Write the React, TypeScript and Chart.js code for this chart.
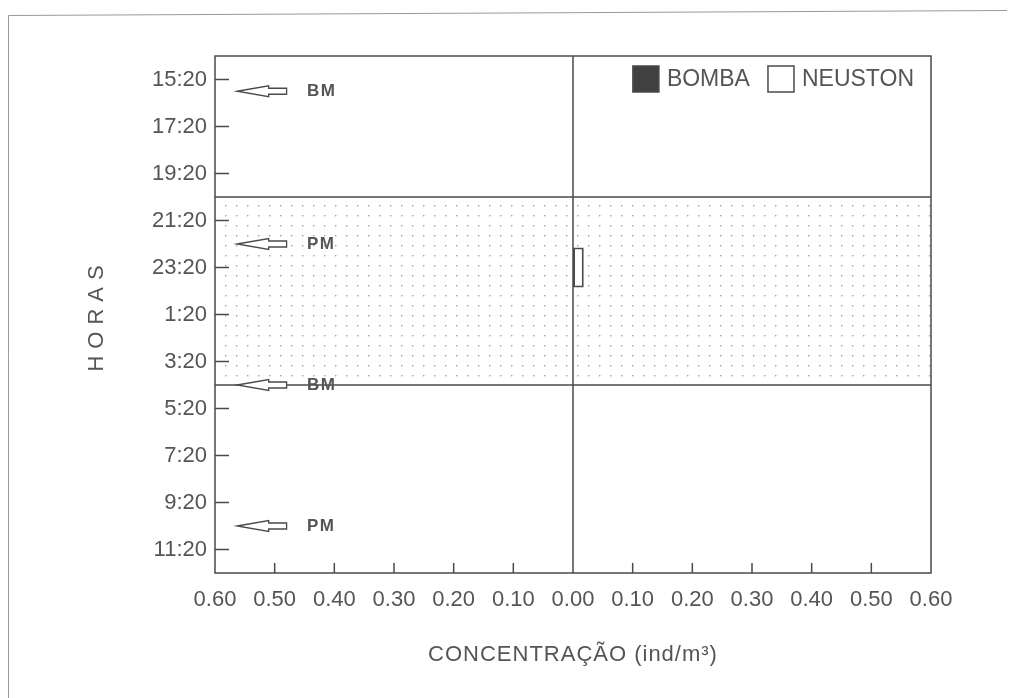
import { useEffect, useRef } from 'react';
import { Chart, registerables } from 'chart.js';

Chart.register(...registerables);

// ---- data ----
const hourLabels = ['15:20', '17:20', '19:20', '21:20', '23:20', '1:20', '3:20', '5:20', '7:20', '9:20', '11:20'];
const bombaValues = [0, 0, 0, 0, 0, 0, 0, 0, 0, 0, 0];
const neustonValues = [0, 0, 0, 0, 0.018, 0, 0, 0, 0, 0, 0];
const nightHours = ['21:20', '23:20', '1:20', '3:20'];
const tideLabels = ['BM', 'PM', 'BM', 'PM'];
const tideTimes = ['15:50', '22:20', '4:20', '10:20'];
const xTickValues = [-0.6, -0.5, -0.4, -0.3, -0.2, -0.1, 0, 0.1, 0.2, 0.3, 0.4, 0.5, 0.6];

// ---- style ----
const FONT = "'Liberation Sans', Arial, Helvetica, sans-serif";
const INK = '#4a4a4a';
const TEXT = '#555555';
const W = 1015;
const H = 698;

function toMin(t: string) {
  const [h, m] = t.split(':').map(Number);
  return h * 60 + m;
}

// fractional category index for a clock time
function timeToIndex(t: string) {
  const start = toMin(hourLabels[0]);
  const step = toMin(hourLabels[1]) - start;
  let d = toMin(t) - start;
  if (d < 0) d += 1440;
  return d / step;
}

function makePattern(ctx: CanvasRenderingContext2D) {
  const c = document.createElement('canvas');
  c.width = 11;
  c.height = 10;
  const p = c.getContext('2d')!;
  p.fillStyle = '#ffffff';
  p.fillRect(0, 0, 11, 10);
  p.fillStyle = '#a0a0a0';
  p.fillRect(5, 5, 1.4, 1.4);
  return ctx.createPattern(c, 'repeat');
}

const decorPlugin = {
  id: 'decor',
  beforeDatasetsDraw(chart: any) {
    const { ctx, chartArea: a, scales } = chart;
    const y = scales.y;
    const i0 = hourLabels.indexOf(nightHours[0]);
    const i1 = hourLabels.indexOf(nightHours[nightHours.length - 1]);
    const top = y.getPixelForValue(i0 - 0.5);
    const bot = y.getPixelForValue(i1 + 0.5);
    ctx.save();
    ctx.fillStyle = makePattern(ctx) || '#eee';
    ctx.fillRect(a.left, top, a.right - a.left, bot - top);
    ctx.restore();
  },
  afterDatasetsDraw(chart: any) {
    const { ctx, chartArea: a, scales } = chart;
    const x = scales.x;
    const y = scales.y;
    ctx.save();
    ctx.strokeStyle = INK;
    ctx.lineWidth = 1.5;

    // band edges
    const i0 = hourLabels.indexOf(nightHours[0]);
    const i1 = hourLabels.indexOf(nightHours[nightHours.length - 1]);
    [y.getPixelForValue(i0 - 0.5), y.getPixelForValue(i1 + 0.5)].forEach((py: number) => {
      ctx.beginPath();
      ctx.moveTo(a.left, py);
      ctx.lineTo(a.right, py);
      ctx.stroke();
    });

    // centre line at 0
    const cx = x.getPixelForValue(0);
    ctx.beginPath();
    ctx.moveTo(cx, a.top);
    ctx.lineTo(cx, a.bottom);
    ctx.stroke();

    // frame
    ctx.strokeRect(a.left, a.top, a.right - a.left, a.bottom - a.top);

    // inward ticks
    hourLabels.forEach((_, i) => {
      const py = y.getPixelForValue(i);
      ctx.beginPath();
      ctx.moveTo(a.left, py);
      ctx.lineTo(a.left + 14, py);
      ctx.stroke();
    });
    xTickValues.forEach((v) => {
      if (Math.abs(v) < 1e-9 || Math.abs(Math.abs(v) - 0.6) < 1e-9) return;
      const px = x.getPixelForValue(v);
      ctx.beginPath();
      ctx.moveTo(px, a.bottom);
      ctx.lineTo(px, a.bottom - 10);
      ctx.stroke();
    });

    // tide arrows
    const tip = x.getPixelForValue(-0.563);
    const base = x.getPixelForValue(-0.51);
    const end = x.getPixelForValue(-0.48);
    const lx = x.getPixelForValue(-0.446);
    tideTimes.forEach((t, k) => {
      const py = y.getPixelForValue(timeToIndex(t));
      ctx.beginPath();
      ctx.moveTo(tip, py);
      ctx.lineTo(base, py - 5.5);
      ctx.lineTo(base, py - 3);
      ctx.lineTo(end, py - 3);
      ctx.lineTo(end, py + 3);
      ctx.lineTo(base, py + 3);
      ctx.lineTo(base, py + 5.5);
      ctx.closePath();
      ctx.fillStyle = '#ffffff';
      ctx.fill();
      ctx.lineWidth = 1.3;
      ctx.stroke();
      ctx.fillStyle = TEXT;
      ctx.font = `bold 17px ${FONT}`;
      (ctx as any).letterSpacing = '1.5px';
      ctx.textAlign = 'left';
      ctx.textBaseline = 'middle';
      ctx.fillText(tideLabels[k], lx, py + 0.5);
    });
    (ctx as any).letterSpacing = '0px';

    // legend (top-right inside plot)
    ctx.font = `23px ${FONT}`;
    ctx.textBaseline = 'middle';
    ctx.textAlign = 'left';
    const items = chart.data.datasets.map((ds: any) => ({ label: ds.label, fill: ds.legendFill }));
    const box = 26;
    const gapText = 8;
    const gapItem = 18;
    let total = 0;
    items.forEach((it: any, k: number) => {
      total += box + gapText + ctx.measureText(it.label).width + (k < items.length - 1 ? gapItem : 0);
    });
    let lxp = a.right - 17 - total;
    const ly = a.top + 10;
    items.forEach((it: any) => {
      ctx.fillStyle = it.fill;
      ctx.fillRect(lxp, ly, box, box);
      ctx.lineWidth = 1.5;
      ctx.strokeStyle = INK;
      ctx.strokeRect(lxp, ly, box, box);
      ctx.fillStyle = TEXT;
      ctx.fillText(it.label, lxp + box + gapText, ly + box / 2 + 1);
      lxp += box + gapText + ctx.measureText(it.label).width + gapItem;
    });

    // axis titles
    ctx.fillStyle = TEXT;
    ctx.font = `22px ${FONT}`;
    (ctx as any).letterSpacing = '1px';
    ctx.textAlign = 'center';
    ctx.textBaseline = 'middle';
    ctx.fillText('CONCENTRAÇÃO (ind/m³)', (a.left + a.right) / 2, 655);
    (ctx as any).letterSpacing = '7px';
    ctx.save();
    ctx.translate(97, (a.top + a.bottom) / 2 + 4);
    ctx.rotate(-Math.PI / 2);
    ctx.fillText('HORAS', 3.5, 0);
    ctx.restore();
    (ctx as any).letterSpacing = '0px';

    ctx.restore();
  },
  afterDraw(chart: any) {
    const { ctx } = chart;
    ctx.save();
    ctx.strokeStyle = '#9a9a9a';
    ctx.lineWidth = 1;
    ctx.beginPath();
    ctx.moveTo(8.5, H);
    ctx.lineTo(8.5, 15.5);
    ctx.lineTo(W - 8, 10.5);
    ctx.stroke();
    ctx.restore();
  },
};

export default function App() {
  const ref = useRef<HTMLCanvasElement | null>(null);

  useEffect(() => {
    if (!ref.current) return;
    const chart = new Chart(ref.current, {
      type: 'bar',
      data: {
        labels: hourLabels,
        datasets: [
          {
            label: 'BOMBA',
            data: bombaValues.map((v) => -v),
            backgroundColor: '#404040',
            borderColor: INK,
            borderWidth: 1.5,
            borderSkipped: false,
            categoryPercentage: 0.85,
            barPercentage: 1,
            legendFill: '#404040',
          } as any,
          {
            label: 'NEUSTON',
            data: neustonValues,
            backgroundColor: '#ffffff',
            borderColor: INK,
            borderWidth: 2,
            borderSkipped: false,
            categoryPercentage: 0.85,
            barPercentage: 1,
            legendFill: '#ffffff',
          } as any,
        ],
      },
      options: {
        indexAxis: 'y',
        responsive: false,
        animation: false,
        layout: { padding: { top: 56, right: 84, left: 0, bottom: 0 } },
        plugins: {
          legend: { display: false },
          tooltip: { enabled: false },
        },
        scales: {
          x: {
            type: 'linear',
            min: -0.6,
            max: 0.6,
            stacked: true,
            afterFit: (s: any) => {
              s.height = H - 573;
            },
            afterBuildTicks: (s: any) => {
              s.ticks = xTickValues.map((v) => ({ value: v }));
            },
            grid: { display: false, drawTicks: false },
            border: { display: false },
            ticks: {
              autoSkip: false,
              maxRotation: 0,
              padding: 14,
              color: TEXT,
              font: { family: FONT, size: 22 },
              callback: (v: any) => Math.abs(Number(v)).toFixed(2),
            },
          },
          y: {
            type: 'category',
            stacked: true,
            afterFit: (s: any) => {
              s.width = 215;
            },
            grid: { display: false, drawTicks: false },
            border: { display: false },
            ticks: {
              autoSkip: false,
              padding: 8,
              color: TEXT,
              font: { family: FONT, size: 22 },
            },
          },
        },
      },
      plugins: [decorPlugin as any],
    });
    return () => chart.destroy();
  }, []);

  return (
    <div style={{ position: 'fixed', left: 0, top: 0, width: W, height: H, background: '#ffffff' }}>
      <canvas ref={ref} width={W} height={H} style={{ display: 'block', width: W, height: H }} />
    </div>
  );
}
